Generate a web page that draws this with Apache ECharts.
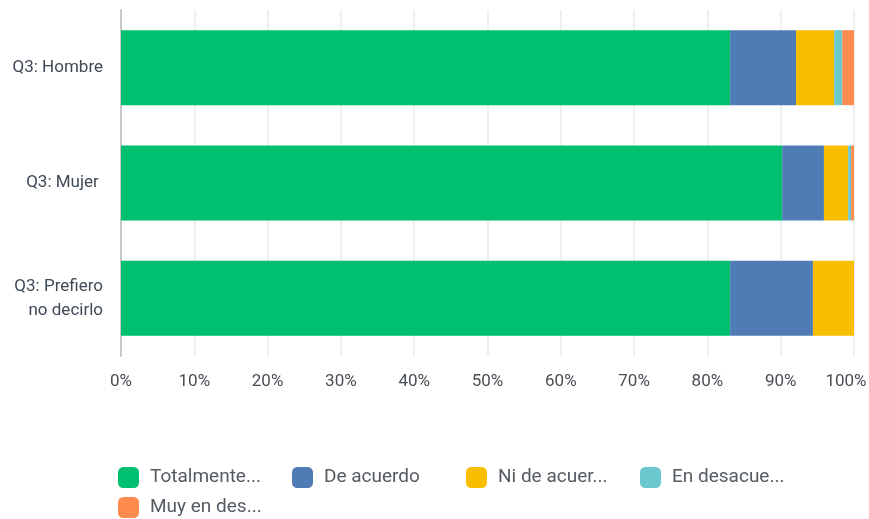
<!DOCTYPE html>
<html><head><meta charset="utf-8">
<script src="https://cdn.jsdelivr.net/npm/echarts@6/dist/echarts.min.js"></script>
<style>html,body{margin:0;padding:0;background:#fff}#c{width:869px;height:519px}</style>
</head><body><div id="c"></div>
<script>
var categories = ['Q3: Hombre', 'Q3: Mujer ', 'Q3: Prefiero\nno decirlo'];
var seriesNames = ['Totalmente...', 'De acuerdo', 'Ni de acuer...', 'En desacue...', 'Muy en des...'];
var totalmente = [83.1, 90.2, 83.1];
var deAcuerdo = [9.0, 5.7, 11.3];
var niDeAcuerdo = [5.2, 3.3, 5.6];
var enDesacuerdo = [1.1, 0.4, 0];
var muyEnDesacuerdo = [1.6, 0.4, 0];
var xTicks = [0, 10, 20, 30, 40, 50, 60, 70, 80, 90, 100];
var colors = ['#00bf6f', '#507cb6', '#f9be00', '#6bc8cd', '#ff8b4f'];
var values = [totalmente, deAcuerdo, niDeAcuerdo, enDesacuerdo, muyEnDesacuerdo];
var font = 'Roboto';
var chart = echarts.init(document.getElementById('c'));
var legendPos = [[118, 467], [292, 467], [466, 467], [640, 467], [118, 497]];
var legends = seriesNames.map(function (n, i) {
  return {
    data: [n], left: legendPos[i][0], top: legendPos[i][1], padding: 0,
    icon: 'roundRect', itemWidth: 21, itemHeight: 21, itemGap: 0,
    textStyle: { fontFamily: font, fontSize: 19, color: '#555b63', padding: [0, 0, 0, 6] },
    selectedMode: false
  };
});
chart.setOption({
  animation: false,
  color: colors,
  legend: legends,
  grid: { left: 121, right: 15, top: 10, bottom: 163, containLabel: false, outerBoundsMode: 'none' },
  xAxis: {
    type: 'value', min: 0, max: 100, interval: 10,
    axisLabel: {
      formatter: function (v) {
        if (xTicks.indexOf(v) < 0) return '';
        return v === 100 ? '{r|' + v + '%}' : v + '%';
      },
      rich: { r: { fontFamily: font, fontSize: 17, color: '#4a4f55', padding: [0, 16, 0, 0] } },
      fontFamily: font, fontSize: 17, color: '#4a4f55', margin: 17
    },
    splitLine: { show: true, lineStyle: { color: '#efefef', width: 2 } },
    axisLine: { show: false }, axisTick: { show: false }
  },
  yAxis: {
    type: 'category', data: categories, inverse: true,
    axisLabel: { fontFamily: font, fontSize: 17, color: '#3f4a56', margin: 18, lineHeight: 24, align: 'right' },
    axisLine: { show: true, lineStyle: { color: '#c8c8c8', width: 2 } },
    axisTick: { show: false }, splitLine: { show: false }
  },
  series: seriesNames.map(function (n, i) {
    return { name: n, type: 'bar', stack: 'a', data: values[i], barCategoryGap: '35%', itemStyle: { color: colors[i] } };
  })
});
</script></body></html>
